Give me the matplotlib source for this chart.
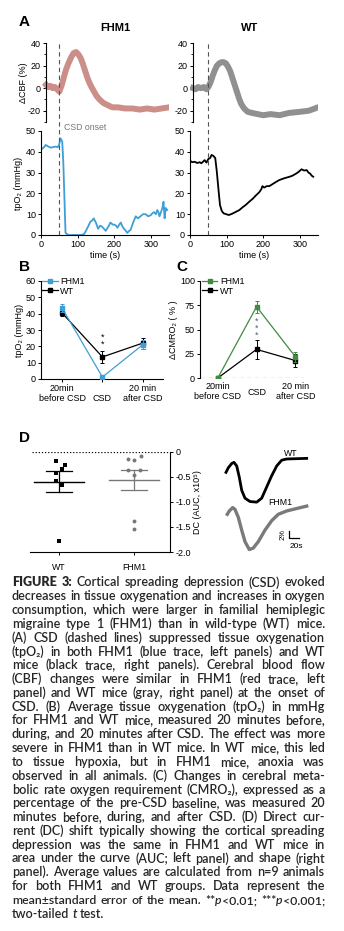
import matplotlib

matplotlib.use("Agg")
import matplotlib.pyplot as plt
from matplotlib.font_manager import FontProperties
from matplotlib.lines import Line2D
from matplotlib.ticker import MultipleLocator

plt.rcParams["font.family"] = ["Liberation Sans", "DejaVu Sans"]
plt.rcParams["axes.unicode_minus"] = False
plt.rcParams["font.size"] = 6.5
plt.rcParams["axes.linewidth"] = 0.8
plt.rcParams["xtick.major.width"] = 0.7
plt.rcParams["ytick.major.width"] = 0.7
plt.rcParams["xtick.major.size"] = 2.2
plt.rcParams["ytick.major.size"] = 2.2
plt.rcParams["xtick.major.pad"] = 1.5
plt.rcParams["ytick.major.pad"] = 1.5

# ---------------- data ----------------
CSD_ONSET = 50  # s

# A: CBF traces (time s, % change)
cbf_fhm1_t = [14, 20, 26, 32, 38, 44, 50, 56, 62, 68, 75, 82, 89, 96, 102, 108, 114, 120, 126,
              132, 138, 145, 152, 160, 170, 182, 195, 210, 230, 250, 270, 290, 310, 330, 350]
cbf_fhm1 = [3, 1, 2, 0, 1, -1, -3, 2, 9, 16, 22, 27, 31, 32, 30, 27, 22, 16, 10,
            5, 1, -3, -7, -10, -13, -15, -17, -17, -18, -18, -19, -18, -19, -18, -17]
cbf_wt_t = [8, 15, 22, 30, 38, 45, 50, 56, 62, 68, 74, 80, 86, 92, 98, 104, 110, 116, 122,
            128, 134, 140, 148, 158, 170, 185, 200, 220, 245, 270, 300, 325, 350]
cbf_wt = [0, -1, 1, 0, 1, -1, 1, 5, 11, 16, 20, 22, 23, 23, 22, 19, 15, 9, 3,
          -3, -9, -14, -18, -21, -22, -23, -24, -23, -24, -22, -21, -20, -17]

# A: tpO2 traces (time s, mmHg)
tpo2_fhm1_t = [0, 7, 13, 20, 27, 34, 40, 46, 50, 53, 58, 61, 64, 67, 75, 90, 110, 118, 124, 130,
               135, 140, 144, 150, 156, 162, 167, 172, 177, 184, 190, 196, 200, 205, 209, 214,
               218, 223, 227, 232, 236, 241, 245, 252, 259, 265, 272, 279, 286, 293, 300, 305,
               309, 314, 318, 321, 324, 328, 332, 335, 338, 341, 345]
tpo2_fhm1 = [41, 42, 43.3, 42.5, 42, 42.3, 42.5, 42.2, 43.7, 46.5, 45, 35, 18, 1, 0, 0, 0, 0.5, 2.4, 4.5,
             6.4, 7, 8, 6, 3, 4.5, 4, 3, 2, 4, 6, 5, 5, 4.5, 3.5, 5, 6, 4, 3, 2, 1, 2, 2.5, 6, 9,
             8, 9, 10, 10, 9, 9.5, 10.5, 11, 10, 12, 11, 9, 11, 13, 16, 8, 13, 12]
tpo2_wt_t = [0, 6, 13, 20, 26, 31, 36, 40, 45, 50, 55, 59, 64, 69, 73, 78, 82, 87, 92, 99, 106,
             115, 124, 135, 145, 152, 162, 172, 180, 189, 195, 198, 203, 210, 217, 226, 235, 244,
             253, 262, 272, 280, 291, 298, 305, 312, 319, 324, 328, 333, 337]
tpo2_wt = [35.7, 35, 35.2, 34.6, 35, 34.5, 35.3, 36, 34.8, 36.5, 37, 38.5, 38, 37, 31, 21.6, 14.4,
           11.5, 10.4, 10, 9.6, 10.2, 11, 12, 13.5, 14.4, 16, 17.5, 19, 20.5, 22, 23.5, 22.8, 23.5,
           23.5, 24.5, 25.5, 26.4, 27, 27.5, 28, 28.5, 29.6, 30.5, 31.6, 31, 31.2, 30, 29.6, 28.5, 28]

# B: average tpO2 (mmHg)
b_conditions = ["20min\nbefore CSD", "\nCSD", "20 min\nafter CSD"]
b_fhm1_mean = [43.5, 1.2, 21.0]
b_fhm1_sem = [2.3, 0.6, 2.8]
b_wt_mean = [40.5, 13.5, 22.0]
b_wt_sem = [2.0, 3.6, 3.4]

# C: delta CMRO2 (%)
c_conditions = ["20min\nbefore CSD", "CSD", "20 min\nafter CSD"]
c_fhm1_mean = [0, 73.5, 22.0]
c_fhm1_sem = [0, 6.0, 5.0]
c_wt_mean = [0, 29.5, 18.0]
c_wt_sem = [0, 10.0, 7.0]

# D: DC shift AUC (x10^5)
d_groups = ["WT", "FHM1"]
d_wt_x = [-0.04, 0.08, 0.04, -0.04, -0.04, 0.04, 0.0]
d_wt_auc = [-0.18, -0.27, -0.34, -0.43, -0.58, -0.67, -1.77]
d_wt_mean, d_wt_sem = -0.60, 0.21
d_fhm1_x = [0.92, 1.0, 1.09, 0.92, 1.08, 1.0, 1.0, 1.0]
d_fhm1_auc = [-0.15, -0.16, -0.09, -0.37, -0.37, -0.47, -1.37, -1.53]
d_fhm1_mean, d_fhm1_sem = -0.56, 0.20

# D: representative DC traces (time s, % shift)
dc_wt_t = [0, 4.6, 11.4, 16, 21.4, 26.6, 31.4, 38, 48, 61.4, 71.4, 81.4, 91.4, 101.4, 111.4,
           121.4, 141.4, 161.4]
dc_wt = [-4.5, -3.0, -1.6, -1.2, -2.4, -6.1, -10.4, -13.0, -14.1, -14.3, -13.0, -9.3, -5.6,
         -2.4, -0.5, -0.1, 0.0, 0.1]
dc_fhm1_t = [2.6, 6.6, 13.4, 18, 24.6, 31.4, 38, 46.6, 54.6, 64.6, 78, 91.4, 104.6, 121.4,
             141.4, 161.4]
dc_fhm1 = [-2.7, -1.6, -0.5, -1.1, -3.7, -7.9, -11.7, -14.3, -13.8, -11.7, -7.9, -4.8, -2.7,
           -1.6, -0.8, 0.0]

RED = "#cc8e89"
GRAY_T = "#909090"
BLUE = "#3d9fd6"
GREEN = "#3f8c3f"
STAR_BLUE = "#4d5b80"

W, H = 344, 931
fig = plt.figure(figsize=(W / 100, H / 100), dpi=100)
fig.patch.set_facecolor("white")


def px_axes(left, top, right, bottom):
    return fig.add_axes([left / W, 1 - bottom / H, (right - left) / W, (bottom - top) / H])


def fig_text(x, y, s, **kw):
    return fig.text(x / W, 1 - y / H, s, **kw)


def clean(ax, keep=("left", "bottom")):
    for side in ("left", "right", "top", "bottom"):
        ax.spines[side].set_visible(side in keep)


def legend_handles(colors):
    return [Line2D([], [], color=c, marker="s", ms=2.2, lw=0.9) for c in colors]


# ---------------- panel A ----------------
fig_text(24, 22, "A", fontsize=11, fontweight="bold", ha="center", va="center")
fig_text(115, 28, "FHM1", fontsize=8, fontweight="bold", ha="center", va="center")
fig_text(250, 28, "WT", fontsize=8, fontweight="bold", ha="center", va="center")

for left, right, t, v, col, spine_t, show_lab in [
    (41, 169, cbf_fhm1_t, cbf_fhm1, RED, 13, True),
    (190, 318, cbf_wt_t, cbf_wt, GRAY_T, 8, False),
]:
    ax = px_axes(left, 43, right, 122)
    ax.plot(t, v, color=col, lw=4.3, solid_joinstyle="round")
    ax.set_xlim(0, 350)
    ax.set_ylim(-30, 40)
    clean(ax, ("left",))
    ax.spines["left"].set_position(("data", spine_t))
    ax.set_yticks([-20, 0, 20, 40])
    ax.yaxis.set_minor_locator(MultipleLocator(10))
    ax.tick_params(axis="y", which="minor", length=1.5, width=0.6)
    ax.set_xticks([])
    ax.patch.set_alpha(0)
    if show_lab:
        ax.set_ylabel("ΔCBF (%)", labelpad=0)

for left, right, t, v, col, show_lab in [
    (41, 169, tpo2_fhm1_t, tpo2_fhm1, BLUE, True),
    (190, 318, tpo2_wt_t, tpo2_wt, "black", False),
]:
    ax = px_axes(left, 131, right, 235)
    ax.plot(t, v, color=col, lw=1.3)
    ax.set_xlim(0, 350)
    ax.set_ylim(0, 50)
    clean(ax)
    ax.set_xticks([0, 100, 200, 300])
    ax.set_yticks(range(0, 51, 10))
    ax.set_xlabel("time (s)", labelpad=1)
    ax.axvline(CSD_ONSET, ymin=0, ymax=(235 - 43) / (235 - 131), clip_on=False,
               color="#555555", lw=0.8, ls=(0, (4, 3)))
    ax.patch.set_alpha(0)
    if show_lab:
        ax.set_ylabel("tpO₂ (mmHg)", labelpad=2)

fig_text(64, 128, "CSD onset", fontsize=6.3, color="#777777", ha="left", va="center")

# ---------------- panel B ----------------
fig_text(24, 267, "B", fontsize=11, fontweight="bold", ha="center", va="center")
axb = px_axes(41, 281, 163, 379)
xs = range(len(b_conditions))
axb.errorbar(xs, b_wt_mean, yerr=b_wt_sem, color="black", marker="s", ms=2.4, lw=0.9,
             elinewidth=0.7, capsize=1.5, capthick=0.7, zorder=3)
axb.errorbar(xs, b_fhm1_mean, yerr=b_fhm1_sem, color=BLUE, marker="s", ms=2.4, lw=0.9,
             elinewidth=0.7, capsize=1.5, capthick=0.7, zorder=4)
axb.set_xlim(-0.52, 2.5)
axb.set_ylim(0, 60)
axb.set_yticks(range(0, 61, 10))
axb.set_xticks(list(xs))
axb.set_xticklabels([])
clean(axb)
for i, lab in enumerate(b_conditions):
    axb.annotate(lab, xy=(i, 0), xycoords=("data", "axes fraction"), xytext=(0, -3.5),
                 textcoords="offset points", ha="center", va="top", fontsize=6.5, linespacing=1.15)
axb.text(1, 23.2, "*\n*", ha="center", va="center", fontsize=6.5, linespacing=0.75)
axb.set_ylabel("tpO₂ (mmHg)", labelpad=1)
axb.legend(legend_handles([BLUE, "black"]), ["FHM1", "WT"], loc="upper left",
           bbox_to_anchor=(0.01, 1.04), frameon=False, fontsize=6.5, handlelength=1.7,
           handletextpad=0.3, labelspacing=0.05, borderaxespad=0, borderpad=0)

# ---------------- panel C ----------------
fig_text(182, 267, "C", fontsize=11, fontweight="bold", ha="center", va="center")
axc = px_axes(200, 281, 305, 378)
xs = range(len(c_conditions))
axc.axhline(0, color="black", lw=0.8, ls=(0, (4, 3)), zorder=1)
axc.errorbar(xs, c_wt_mean, yerr=c_wt_sem, color="black", marker="s", ms=2.4, lw=0.9,
             elinewidth=0.7, capsize=1.5, capthick=0.7, zorder=3)
axc.errorbar(xs, c_fhm1_mean, yerr=c_fhm1_sem, color=GREEN, marker="s", ms=2.4, lw=0.9,
             elinewidth=0.7, capsize=1.5, capthick=0.7, zorder=4)
axc.set_xlim(-0.46, 2.25)
axc.set_ylim(0, 100)
axc.set_yticks([0, 25, 50, 75, 100])
axc.set_xticks([])
clean(axc, ("left",))
for i, lab in enumerate(c_conditions):
    if lab == "CSD":
        axc.annotate(lab, xy=(i, 0), xycoords=("data", "axes fraction"), xytext=(0, -10.5),
                     textcoords="offset points", ha="center", va="center", fontsize=6.5)
    else:
        axc.annotate(lab, xy=(i, 0), xycoords=("data", "axes fraction"), xytext=(0, -3),
                     textcoords="offset points", ha="center", va="top", fontsize=6.5,
                     linespacing=1.15)
axc.text(1, 51.5, "*\n*\n*", ha="center", va="center", fontsize=6.5, color=STAR_BLUE,
         linespacing=0.75)
axc.set_ylabel("ΔCMRO₂ ( % )", labelpad=1)
axc.legend(legend_handles([GREEN, "black"]), ["FHM1", "WT"], loc="upper left",
           bbox_to_anchor=(0.02, 1.04), frameon=False, fontsize=6.5, handlelength=1.7,
           handletextpad=0.3, labelspacing=0.05, borderaxespad=0, borderpad=0)

# ---------------- panel D ----------------
fig_text(25, 438, "D", fontsize=11, fontweight="bold", ha="center", va="center")
axd = px_axes(30, 452, 170, 552)
axd.axhline(0, xmin=0.015, color="black", lw=0.9, ls=(0, (1, 1.5)))
axd.scatter(d_wt_x, d_wt_auc, marker="s", s=7, color="black", zorder=3, linewidths=0)
axd.scatter(d_fhm1_x, d_fhm1_auc, marker="o", s=8, color="#777777", zorder=3, linewidths=0)
for xc, m, s, col in [(0, d_wt_mean, d_wt_sem, "black"), (1, d_fhm1_mean, d_fhm1_sem, "#777777")]:
    axd.plot([xc - 0.33, xc + 0.33], [m, m], color=col, lw=1.0)
    axd.plot([xc, xc], [m - s, m + s], color=col, lw=0.9)
    for yy in (m - s, m + s):
        axd.plot([xc - 0.17, xc + 0.17], [yy, yy], color=col, lw=0.9)
axd.set_xlim(-0.39, 1.48)
axd.set_ylim(-2.0, 0)
axd.set_xticks([0, 1])
axd.set_xticklabels(d_groups)
axd.tick_params(axis="x", pad=6, labelsize=6.3)
axd.set_yticks([0, -0.5, -1.0, -1.5, -2.0])
axd.set_yticklabels(["0", "-0.5", "-1.0", "-1.5", "-2.0"])
axd.yaxis.tick_right()
axd.yaxis.set_label_position("right")
clean(axd, ("right", "bottom"))
axd.set_ylabel("DC (AUC, x10⁵)", labelpad=2)
axd.patch.set_alpha(0)

# representative DC traces
FHM1_OFFSET = -15.6
axt = px_axes(222, 445, 320, 562)
axt.plot(dc_wt_t, dc_wt, color="black", lw=2.0, solid_joinstyle="round")
axt.plot(dc_fhm1_t, [v + FHM1_OFFSET for v in dc_fhm1], color="#7a7a7a", lw=2.4,
         solid_joinstyle="round")
axt.set_xlim(-8, 188)
axt.set_ylim(-34.0, 4.5)
axt.axis("off")
fig_text(291, 453, "WT", fontsize=6.3, ha="center", va="center")
fig_text(280, 502, "FHM1", fontsize=6.3, ha="center", va="center")
fig.add_artist(Line2D([288.5 / W, 288.5 / W, 298.5 / W],
                      [1 - 531 / H, 1 - 537.5 / H, 1 - 537.5 / H], color="black", lw=0.9))
fig_text(283, 534, "2%", fontsize=5.5, rotation=90, ha="center", va="center")
fig_text(296, 547, "20s", fontsize=6, ha="center", va="center")

# ---------------- caption (justified) ----------------
caption_lines = [
    "!FIGURE !3: Cortical spreading depression (CSD) evoked",
    "decreases in tissue oxygenation and increases in oxygen",
    "consumption, which were larger in familial hemiplegic",
    "migraine type 1 (FHM1) than in wild-type (WT) mice.",
    "(A) CSD (dashed lines) suppressed tissue oxygenation",
    "(tpO₂) in both FHM1 (blue trace, left panels) and WT",
    "mice (black trace, right panels). Cerebral blood flow",
    "(CBF) changes were similar in FHM1 (red trace, left",
    "panel) and WT mice (gray, right panel) at the onset of",
    "CSD. (B) Average tissue oxygenation (tpO₂) in mmHg",
    "for FHM1 and WT mice, measured 20 minutes before,",
    "during, and 20 minutes after CSD. The effect was more",
    "severe in FHM1 than in WT mice. In WT mice, this led",
    "to tissue hypoxia, but in FHM1 mice, anoxia was",
    "observed in all animals. (C) Changes in cerebral meta-",
    "bolic rate oxygen requirement (CMRO₂), expressed as a",
    "percentage of the pre-CSD baseline, was measured 20",
    "minutes before, during, and after CSD. (D) Direct cur-",
    "rent (DC) shift typically showing the cortical spreading",
    "depression was the same in FHM1 and WT mice in",
    "area under the curve (AUC; left panel) and shape (right",
    "panel). Average values are calculated from n=9 animals",
    "for both FHM1 and WT groups. Data represent the",
    "mean±standard error of the mean. **~p~<0.01; ***~p~<0.001;",
    "two-tailed ~t~ test.",
]
CAP_FAMILY = ["Lato", "DejaVu Sans"]
CAP_LEFT, CAP_RIGHT = 12, 325
CAP_TOP, CAP_STEP = 586.5, 13.8
CAP_COLOR = "#262626"

renderer = fig.canvas.get_renderer()


def seg_props(bold, italic, size):
    return FontProperties(family=CAP_FAMILY, size=size,
                          weight="heavy" if bold else "semibold",
                          style="italic" if italic else "normal")


def parse_word(word):
    bold = word.startswith("!")
    if bold:
        word = word[1:]
    return [(part, bold, k % 2 == 1) for k, part in enumerate(word.split("~")) if part]


def seg_width(seg, size):
    text, bold, italic = seg
    w, _, _ = renderer.get_text_width_height_descent(text, seg_props(bold, italic, size),
                                                     ismath=False)
    return w


def space_width(size):
    return seg_width(("a a", False, False), size) - seg_width(("aa", False, False), size)


def natural_width(line, size):
    words = [parse_word(w) for w in line.split(" ")]
    return (sum(seg_width(s, size) for w in words for s in w)
            + space_width(size) * (len(words) - 1))


# base size: the second caption line fills the column with ordinary word spacing
COLUMN = CAP_RIGHT - CAP_LEFT
base_size = 8.0 * COLUMN / natural_width(caption_lines[1], 8.0) * 0.99

for li, line in enumerate(caption_lines):
    size = base_size
    nat = natural_width(line, size)
    if nat > COLUMN:
        size = size * COLUMN / nat * 0.99
    words = [parse_word(w) for w in line.split(" ")]
    widths = [sum(seg_width(s, size) for s in w) for w in words]
    last = li == len(caption_lines) - 1
    if last or len(words) == 1:
        gap = space_width(size)
    else:
        gap = (COLUMN - sum(widths)) / (len(words) - 1)
    x = CAP_LEFT
    y = CAP_TOP + li * CAP_STEP
    for w, ww in zip(words, widths):
        xx = x
        for seg in w:
            text, bold, italic = seg
            fig_text(xx, y, text, fontproperties=seg_props(bold, italic, size), color=CAP_COLOR,
                     ha="left", va="baseline")
            xx += seg_width(seg, size)
        x += ww + gap

fig.savefig("out.png", dpi=100, facecolor="white")
